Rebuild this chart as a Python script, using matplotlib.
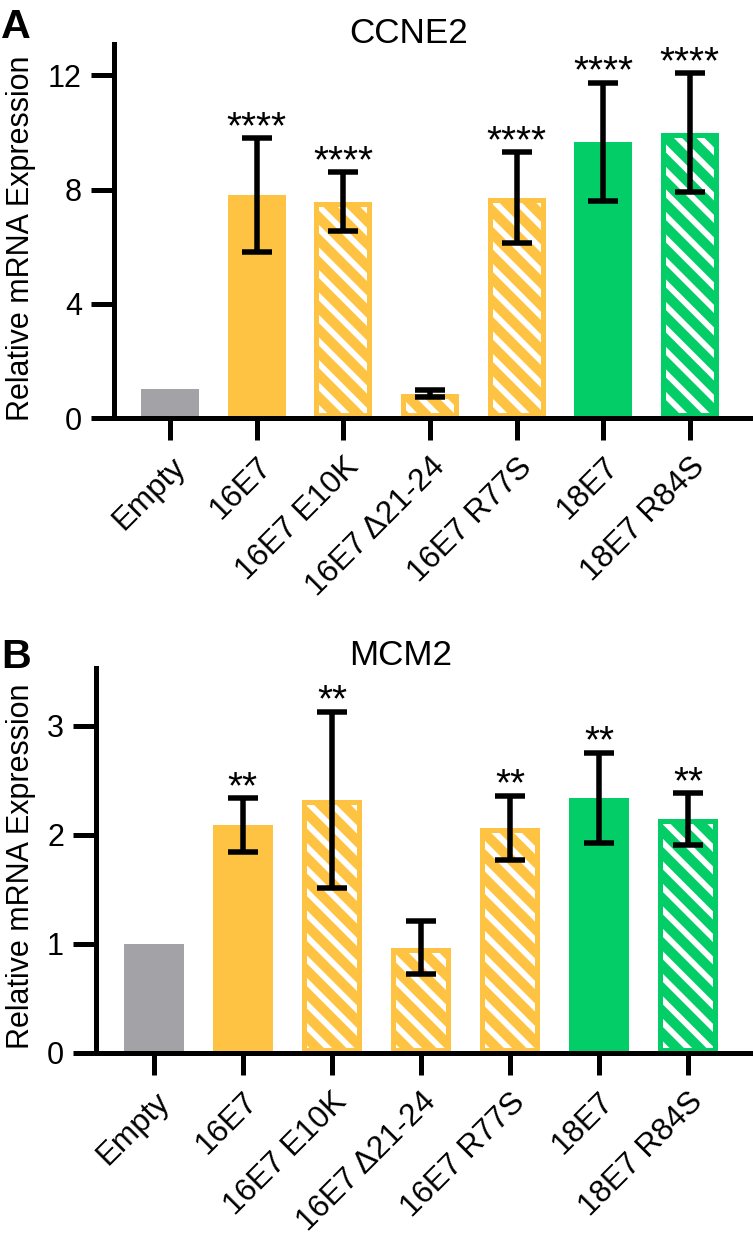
import numpy as np
import matplotlib
matplotlib.use("Agg")
import matplotlib.pyplot as plt
import matplotlib.transforms as mtransforms

plt.rcParams['font.family'] = ['Liberation Sans', 'DejaVu Sans']

DPI = 135
W, H = 753, 1238
PT = 72 / DPI   # pixels -> points

# ——— DATA ———
groups = ["Empty", "16E7", "16E7 E10K", "16E7 \u039421-24", "16E7 R77S", "18E7", "18E7 R84S"]
bar_colors = ["#A3A2A7", "#FFC343", "#FFC343", "#FFC343", "#FFC343", "#03CD66", "#03CD66"]
hatched = [False, False, True, True, True, False, True]

ccne2_mean  = [1.0, 7.80, 7.58, 0.85, 7.72, 9.68, 10.0]
ccne2_err   = [np.nan, 2.0, 1.04, 0.13, 1.60, 2.07, 2.07]
ccne2_stars = ["", "****", "****", "", "****", "****", "****"]

mcm2_mean  = [1.0, 2.09, 2.32, 0.965, 2.065, 2.34, 2.145]
mcm2_err   = [np.nan, 0.245, 0.81, 0.245, 0.295, 0.415, 0.235]
mcm2_stars = ["", "**", "**", "", "**", "**", "**"]

plt.rcParams['hatch.linewidth'] = 5.8 * PT


def px_rect(x0, y0, x1, y1):
    return [x0 / W, 1 - y1 / H, (x1 - x0) / W, (y1 - y0) / H]


def draw_panel(ax, mean, err, stars, ymax, yticks):
    x = np.arange(len(groups))
    mean = np.asarray(mean)
    err = np.asarray(err)
    for i in range(len(groups)):
        if hatched[i]:
            ax.bar(x[i], mean[i], width=0.67, color=bar_colors[i],
                   edgecolor="white", linewidth=0, hatch="\\\\")
            # solid rim inside the bar, like the original
            rim = ax.bar(x[i], mean[i], width=0.67, facecolor="none",
                         edgecolor=bar_colors[i], linewidth=10 * PT)[0]
            rim.set_clip_path(rim)
        else:
            ax.bar(x[i], mean[i], width=0.67, color=bar_colors[i], linewidth=0)

    ok = ~np.isnan(err)
    ax.errorbar(x[ok], mean[ok], yerr=err[ok], fmt="none", ecolor="black",
                elinewidth=5.5 * PT, capsize=15.5 * PT, capthick=5.5 * PT, zorder=3)

    for i, s in enumerate(stars):
        if s:
            ax.text(x[i], mean[i] + err[i], s, ha="center", va="baseline",
                    fontsize=20.5)

    ax.set_xlim(-0.65, 6.72)
    ax.set_ylim(0, ymax)
    ax.set_yticks(yticks)
    ax.set_xticks(x)
    ax.set_xticklabels(groups, rotation=45, ha="right", va="top",
                       rotation_mode="anchor")
    off = mtransforms.ScaledTranslation(6 / DPI, 0, ax.figure.dpi_scale_trans)
    for lab in ax.get_xticklabels():
        lab.set_transform(lab.get_transform() + off)

    for side in ("top", "right"):
        ax.spines[side].set_visible(False)
    for side in ("left", "bottom"):
        ax.spines[side].set_linewidth(5 * PT)
        ax.spines[side].set_capstyle("projecting")
    ax.tick_params(axis="y", direction="out", length=23 * PT, width=5 * PT,
                   labelsize=16.3, pad=9 * PT)
    ax.tick_params(axis="x", direction="out", length=22 * PT, width=5 * PT,
                   labelsize=16.8, pad=12 * PT)


fig = plt.figure(figsize=(W / DPI, H / DPI), dpi=DPI)

ax_a = fig.add_axes(px_rect(114, 44, 752, 418))
draw_panel(ax_a, ccne2_mean, ccne2_err, ccne2_stars, 13.1, [0, 4, 8, 12])

ax_b = fig.add_axes(px_rect(96, 668, 752, 1053))
draw_panel(ax_b, mcm2_mean, mcm2_err, mcm2_stars, 3.53, [0, 1, 2, 3])

# titles, panel letters, y labels
fig.text(409 / W, 1 - 43 / H, "CCNE2", ha="center", va="baseline", fontsize=18.7)
fig.text(401 / W, 1 - 665 / H, "MCM2", ha="center", va="baseline", fontsize=18.7)
fig.text(1 / W, 1 - 38 / H, "A", ha="left", va="baseline", fontsize=22, fontweight="bold")
fig.text(1 / W, 1 - 668 / H, "B", ha="left", va="baseline", fontsize=22, fontweight="bold")
fig.text(21 / W, 1 - 238 / H, "Relative mRNA Expression", rotation=90,
         ha="center", va="center", fontsize=16.3)
fig.text(21 / W, 1 - 866 / H, "Relative mRNA Expression", rotation=90,
         ha="center", va="center", fontsize=16.3)

fig.savefig("out.png", dpi=DPI)
